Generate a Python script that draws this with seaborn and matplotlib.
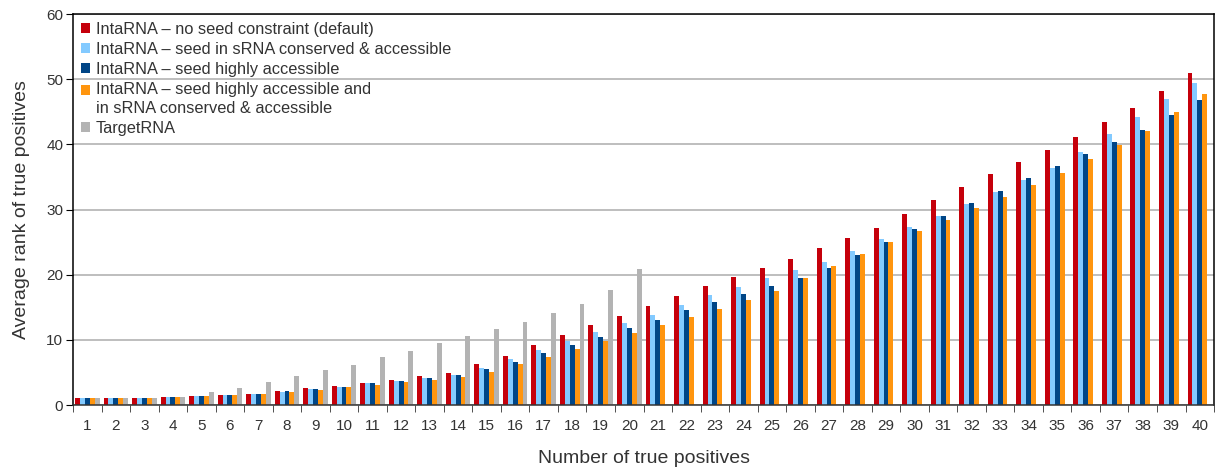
import numpy as np
import pandas as pd
import seaborn as sns
import matplotlib.pyplot as plt

# Data
positives = list(range(1, 41))
methods = [
    'IntaRNA – no seed constraint (default)',
    'IntaRNA – seed in sRNA conserved & accessible',
    'IntaRNA – seed highly accessible',
    'IntaRNA – seed highly accessible and\nin sRNA conserved & accessible',
    'TargetRNA',
]
colors = ['#c5000b', '#83caff', '#004586', '#ff950e', '#b3b3b3']

no_seed = [1.0, 1.0, 1.0, 1.25, 1.43, 1.6, 1.74, 2.15, 2.66, 2.92, 3.38, 3.84, 4.45, 4.91,
           6.29, 7.52, 9.2, 10.74, 12.27, 13.65, 15.18, 16.72, 18.26, 19.64, 21.02, 22.4,
           24.09, 25.63, 27.16, 29.3, 31.46, 33.45, 35.45, 37.29, 39.13, 41.12, 43.42,
           45.57, 48.18, 50.94]
seed_conserved = [1.0, 1.0, 1.0, 1.25, 1.43, 1.6, 1.74, 2.0, 2.45, 2.76, 3.38, 3.69, 4.14,
                  4.6, 5.68, 7.06, 8.44, 9.82, 11.2, 12.58, 13.81, 15.34, 16.88, 18.1,
                  19.49, 20.72, 21.94, 23.63, 25.47, 27.31, 29.0, 30.84, 32.7, 34.53,
                  36.37, 38.82, 41.58, 44.2, 46.95, 49.41]
seed_access = [1.0, 1.0, 1.0, 1.25, 1.43, 1.6, 1.74, 2.15, 2.45, 2.76, 3.38, 3.69, 4.14,
               4.6, 5.52, 6.6, 7.98, 9.2, 10.43, 11.81, 13.04, 14.58, 15.8, 17.03, 18.26,
               19.49, 21.02, 23.02, 25.0, 27.0, 29.0, 31.0, 32.84, 34.84, 36.68, 38.51,
               40.35, 42.2, 44.5, 46.8]
seed_both = [1.0, 1.0, 1.0, 1.25, 1.43, 1.6, 1.74, 2.0, 2.3, 2.76, 3.07, 3.53, 3.84, 4.3,
             5.06, 6.29, 7.37, 8.59, 9.82, 11.05, 12.27, 13.5, 14.73, 16.11, 17.49, 19.49,
             21.33, 23.17, 25.0, 26.7, 28.39, 30.23, 31.92, 33.76, 35.6, 37.75, 39.9,
             42.04, 44.96, 47.72]
target_rna = [1.0, 1.0, 1.0, 1.25, 2.0, 2.66, 3.53, 4.45, 5.37, 6.14, 7.37, 8.29, 9.51,
              10.6, 11.66, 12.73, 14.1, 15.48, 17.63, 20.85]

# Long-form table for seaborn
rows = []
for name, vals in zip(methods, [no_seed, seed_conserved, seed_access, seed_both, target_rna]):
    for n, v in zip(positives, vals):
        rows.append({'n': n, 'rank': v, 'method': name})
df = pd.DataFrame(rows)

plt.rcParams['font.family'] = ['Liberation Sans', 'DejaVu Sans']
txt = '#333333'

fig = plt.figure(figsize=(12.17, 4.68), dpi=100)
ax = fig.add_axes([0.06, 0.1346, 0.9376, 0.8354])

sns.barplot(data=df, x='n', y='rank', hue='method', hue_order=methods, order=positives,
            palette=colors, saturation=1, width=0.86, errorbar=None, linewidth=0, ax=ax)

ax.set_xlim(-0.5, 39.5)
ax.set_ylim(0, 60)
ax.set_yticks(range(0, 61, 10))
ax.yaxis.grid(True, color='#b3b3b3', linewidth=1.2)
ax.set_axisbelow(True)

# labels centred on groups, tick marks on group boundaries
ax.set_xticks(range(40))
ax.set_xticklabels([str(p) for p in positives])
ax.set_xticks(np.arange(-0.5, 40, 1), minor=True)
ax.tick_params(axis='x', which='major', length=0, pad=10, labelsize=11, labelcolor=txt)
ax.tick_params(axis='x', which='minor', length=5, direction='out', color='#333333')
ax.tick_params(axis='y', length=5, direction='out', labelsize=11, labelcolor=txt, pad=2)

for side in ['left', 'top', 'right']:
    ax.spines[side].set_color('#000000')
ax.spines['bottom'].set_color('#333333')
for s in ax.spines.values():
    s.set_linewidth(1.1)

ax.set_xlabel('Number of true positives', fontsize=14, color=txt, labelpad=12)
ax.set_ylabel('Average rank of true positives', fontsize=14, color=txt, labelpad=12)

handles, labels = ax.get_legend_handles_labels()
leg = ax.legend(handles, labels, loc='upper left', frameon=False, fontsize=11.8,
                handlelength=0.55, handleheight=0.55, handletextpad=0.35, labelspacing=0.3,
                borderpad=0.2, borderaxespad=0.3, labelcolor=txt)
for t in leg.get_texts():
    t.set_linespacing(1.35)
# two-line entry: square sits next to the first line
sq = leg.legend_handles[3]
sq.set_y(sq.get_y() + 7)

plt.savefig('out.png', dpi=100)
